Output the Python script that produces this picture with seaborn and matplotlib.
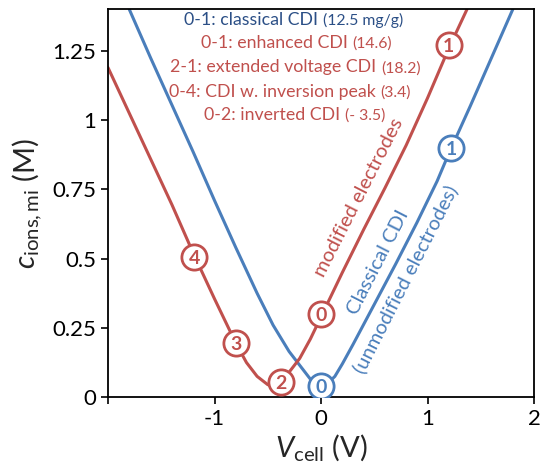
import numpy as np
import pandas as pd
import seaborn as sns
import matplotlib.pyplot as plt


# ==================== Data ====================

# classical CDI (unmodified electrodes)
blue_v = [-1.8, -1.6, -1.4, -1.2, -1.0, -0.8, -0.6, -0.45, -0.3, -0.2, -0.1, -0.04,
          0.0, 0.05, 0.13, 0.2, 0.3, 0.5, 0.7, 0.9, 1.09, 1.2, 1.4, 1.6, 1.8]
blue_c = [1.40, 1.225, 1.055, 0.885, 0.71, 0.54, 0.375, 0.26, 0.165, 0.115, 0.065, 0.04,
          0.035, 0.045, 0.075, 0.12, 0.19, 0.335, 0.48, 0.63, 0.78, 0.88, 1.05, 1.225, 1.40]

# modified electrodes
red_v = [-2.0, -1.8, -1.6, -1.4, -1.2, -1.0, -0.8, -0.7, -0.6, -0.5, -0.45, -0.4,
         -0.3, -0.2, -0.1, 0.0, 0.2, 0.4, 0.6, 0.8, 1.0, 1.2, 1.37]
red_c = [1.19, 1.025, 0.86, 0.695, 0.52, 0.355, 0.195, 0.125, 0.075, 0.045, 0.04, 0.045,
         0.09, 0.14, 0.21, 0.29, 0.45, 0.605, 0.755, 0.91, 1.08, 1.26, 1.40]

# numbered operating points
blue_pt_v = [0.0, 1.22]
blue_pt_c = [0.04, 0.9]
blue_pt_lab = ["0", "1"]

red_pt_v = [0.0, 1.2, -0.38, -0.80, -1.19]
red_pt_c = [0.30, 1.27, 0.054, 0.195, 0.505]
red_pt_lab = ["0", "1", "2", "3", "4"]

legend_main = ["0-1: classical CDI", "0-1: enhanced CDI", "2-1: extended voltage CDI",
               "0-4: CDI w. inversion peak", "0-2: inverted CDI"]
legend_val = ["(12.5 mg/g)", "(14.6)", "(18.2)", "(3.4)", "(- 3.5)"]

x_ticks = [-2, -1, 0, 1, 2]
x_ticklabels = ["", "-1", "0", "1", "2"]
y_ticks = [0, 0.25, 0.5, 0.75, 1, 1.25]
y_ticklabels = ["0", "0.25", "0.5", "0.75", "1", "1.25"]

BLUE = "#4a7ebb"
NAVY = "#2b4f86"
RED = "#c0504d"

# ==================== Plot ====================

sns.set_style("ticks")
plt.rcParams["font.family"] = ["Lato", "DejaVu Sans"]
plt.rcParams["mathtext.fontset"] = "custom"
plt.rcParams["mathtext.rm"] = "Lato"
plt.rcParams["mathtext.it"] = "Lato:italic"

fig = plt.figure(figsize=(5.4, 4.7), dpi=100)
ax = fig.add_axes([0.2, 0.155, 0.789, 0.825])

blue = pd.DataFrame({"v": blue_v, "c": blue_c})
red = pd.DataFrame({"v": red_v, "c": red_c})
sns.lineplot(blue, x="v", y="c", sort=False, color=BLUE, lw=2.2, ax=ax)
sns.lineplot(red, x="v", y="c", sort=False, color=RED, lw=2.2, ax=ax)

for vs, cs, labs, col in [(blue_pt_v, blue_pt_c, blue_pt_lab, BLUE),
                          (red_pt_v, red_pt_c, red_pt_lab, RED)]:
    ax.scatter(vs, cs, s=330, facecolor="white", edgecolor=col, linewidth=2.0, zorder=5)
    for v, c, t in zip(vs, cs, labs):
        ax.text(v, c, t, color=col, fontsize=14, fontweight="bold",
                ha="center", va="center_baseline", zorder=6)

# list of operating modes
split_x = [-0.03, 0.25, 0.52, 0.51, 0.18]
line_y = [1.343, 1.26, 1.173, 1.083, 1.0]
for i, (m, val) in enumerate(zip(legend_main, legend_val)):
    col = NAVY if i == 0 else RED
    ax.text(split_x[i], line_y[i], m, color=col, fontsize=12.8, ha="right", va="baseline")
    ax.text(split_x[i] + 0.045, line_y[i], val, color=col, fontsize=11.3, ha="left", va="baseline")

# curve labels, rotated along the lines
ax.text(0.36, 0.72, "modified electrodes", color=RED, fontsize=14.5, rotation=63,
        ha="center", va="center", rotation_mode="anchor")
ax.text(0.535, 0.486, "Classical CDI", color=BLUE, fontsize=14.5, rotation=63,
        ha="center", va="center", rotation_mode="anchor")
ax.text(0.79, 0.427, "(unmodified electrodes)", color=BLUE, fontsize=14.5, rotation=63,
        ha="center", va="center", rotation_mode="anchor")

ax.set_xlim(-2, 2)
ax.set_ylim(0, 1.4)
ax.set_xticks(x_ticks)
ax.set_xticklabels(x_ticklabels)
ax.set_yticks(y_ticks)
ax.set_yticklabels(y_ticklabels)
ax.tick_params(direction="out", length=5, width=1.2, labelsize=16, colors="black")
for s in ax.spines.values():
    s.set_linewidth(1.3)
    s.set_color("black")

ax.set_xlabel(r"$\mathit{V}_{\mathrm{cell}}$ (V)", fontsize=21, labelpad=2)
ax.set_ylabel(r"$\mathit{c}_{\mathrm{ions,mi}}$ (M)", fontsize=21, labelpad=6)

plt.savefig("out.png", dpi=100)
